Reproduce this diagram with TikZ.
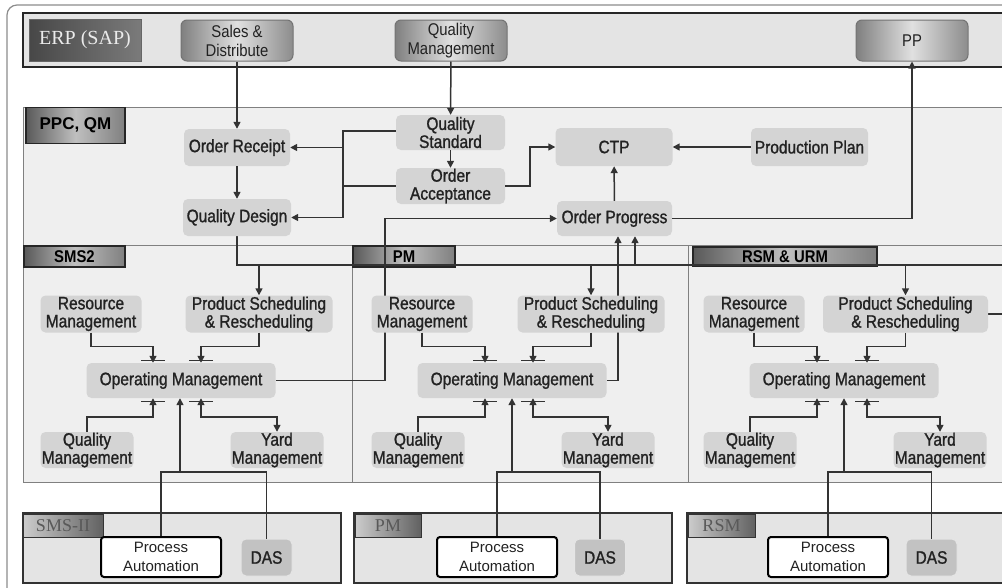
\documentclass[tikz,border=0pt]{standalone}
\usepackage{fontspec}
\setmainfont{Liberation Sans}[FakeStretch=0.875]
\newfontfamily\taskfont{Liberation Sans}[FakeStretch=0.86,FakeBold=1.2]
\newfontfamily\widesans{Liberation Sans}
\newfontfamily\seriftag{Liberation Serif}
\usetikzlibrary{arrows.meta}

\definecolor{taskgray}{HTML}{D4D4D4}
\definecolor{areagray}{HTML}{EFEFEF}
\definecolor{bandgray}{HTML}{E4E4E4}
\definecolor{wiregray}{HTML}{333333}
\definecolor{inkgray}{HTML}{222222}

\pgfdeclarelayer{areas}
\pgfdeclarelayer{under}
\pgfsetlayers{areas,under,main}

\begin{document}
\begin{tikzpicture}[x=1pt,y=-1pt,
  wire/.style={draw=wiregray,line width=1.5pt},
  flow/.style={wire,-{Triangle[length=7pt,width=7pt]}},
  twoway/.style={wire,{Triangle[length=7pt,width=7pt]}-{Triangle[length=7pt,width=7pt]}},
  tee/.style={draw=wiregray,line width=1.2pt},
  task/.style={fill=taskgray,rounded corners=5pt,inner sep=0pt,align=center,text=inkgray,
    font=\taskfont\fontsize{18}{18}\selectfont},
  erpbox/.style={draw=black!55,line width=1pt,rounded corners=6pt,left color=black!50,
    right color=black!45,middle color=black!12,inner sep=0pt,align=center,text=inkgray,
    font=\fontsize{17}{19}\selectfont,minimum width=112pt,minimum height=41pt},
  tag/.style={draw=black!85,line width=1.2pt,left color=black!65,right color=black!50,
    middle color=black!25,inner sep=0pt,text=black,font=\bfseries\fontsize{17}{17}\selectfont},
  sitetag/.style={draw=black!80,line width=1pt,left color=black!20,right color=black!62,
    inner sep=0pt,text=black!65,font=\seriftag\fontsize{18}{18}\selectfont,minimum height=23pt},
  area/.style={draw=black!50,line width=1pt,fill=areagray},
  site/.style={draw=black!80,line width=1.2pt,fill=bandgray},
  automation/.style={draw=black,line width=2pt,fill=white,rounded corners=3pt,inner sep=0pt,
    align=center,text=inkgray,font=\widesans\fontsize{15}{19}\selectfont,
    minimum width=120pt,minimum height=40pt},
  das/.style={fill=black!24,draw=black!10,line width=1pt,rounded corners=5pt,inner sep=0pt,
    text=inkgray,font=\taskfont\fontsize{18}{18}\selectfont,minimum width=51pt,minimum height=37pt}]
  \useasboundingbox (0,0) rectangle (1002,587);
  \clip (0,0) rectangle (1002,587);

  \begin{pgfonlayer}{areas}
    % Outer frame
    \draw[black!45,line width=1.2pt,rounded corners=10pt] (7,5) rectangle (1040,620);
    % ERP band
    \draw[line width=2pt,draw=black!85,fill=bandgray] (23,13) rectangle (1040,67);
    % PPC, QM area
    \draw[area] (23,107) rectangle (1040,245);
    \node[tag,font=\widesans\bfseries\fontsize{17}{17}\selectfont,minimum width=99pt,
      minimum height=36pt] (ppc) at (75.5,125.5) {PPC, QM};
    % Line areas
    \draw[area] (23,245) rectangle (352,482);
    \draw[area] (352,245) rectangle (688,482);
    \draw[area] (688,245) rectangle (1040,482);
    \node[tag,minimum width=101pt,minimum height=21pt] (smstag) at (74.5,256.5) {SMS2};
    \node[tag,minimum width=102pt,minimum height=21pt] (pmtag) at (404,256.5) {PM};
    \node[tag,minimum width=184pt,minimum height=19pt] (rsmtag) at (785,256.5) {RSM \& URM};
  \end{pgfonlayer}

  % ERP systems
  \node[draw=black!60,line width=0.8pt,left color=black!72,right color=black!52,
    minimum width=112pt,minimum height=42pt,inner sep=0pt,text=white!92!black,
    font=\seriftag\fontsize{20}{20}\selectfont] (erp) at (85,40) {ERP (SAP)};
  \node[erpbox] (sales) at (237,40.5) {Sales \&\\Distribute};
  \node[erpbox] (qmerp) at (451,40.5) {Quality\\Management};
  \node[erpbox] (pp) at (912,40.5) {PP};

  % PPC, QM tasks
  \node[task,minimum width=106pt,minimum height=37pt] (receipt) at (237,147.5) {Order Receipt};
  \node[task,minimum width=108pt,minimum height=37pt] (qdesign) at (237,217.5) {Quality Design};
  \node[task,minimum width=109pt,minimum height=35pt] (qstd) at (450.5,132.5) {Quality\\Standard};
  \node[task,minimum width=109pt,minimum height=36pt] (accept) at (450.5,186) {Order\\Acceptance};
  \node[task,minimum width=117pt,minimum height=38pt] (ctp) at (614,147) {CTP};
  \node[task,minimum width=117pt,minimum height=38pt] (plan) at (809.5,147) {Production Plan};
  \node[task,minimum width=115pt,minimum height=35pt] (progress) at (614.5,218.5) {Order Progress};

  \foreach \k/\dx/\psx/\psw/\opl/\opr in {a/0/259/147/153/201, b/331/591/147/485/533,
      c/663/905.5/165/817/867} {
    \node[task,minimum width=101pt,minimum height=37pt] (res-\k) at (91+\dx,314) {Resource\\Management};
    \node[task,minimum width=\psw pt,minimum height=37pt] (ps-\k) at (\psx,314) {Product Scheduling\\\& Rescheduling};
    \node[task,minimum width=189pt,minimum height=35pt] (op-\k) at (181+\dx,380.5) {Operating Management};
    \node[task,minimum width=93pt,minimum height=36pt] (qual-\k) at (87+\dx,450) {Quality\\Management};
    \node[task,minimum width=93pt,minimum height=36pt] (yard-\k) at (277+\dx,450) {Yard\\Management};
    % Inputs and outputs
    \draw[flow] (res-\k.south) -- ++(0,14) -| (op-\k.north -| \opl,0);
    \draw[flow] (ps-\k.south) -- ++(0,14) -| (op-\k.north -| \opr,0);
    \draw[flow] (qual-\k.north) -- ++(0,-15) -| (op-\k.south -| \opl,0);
    \draw[twoway] (op-\k.south -| \opr,0) -- ++(0,19) -| (yard-\k.north);
    % Tee bars
    \foreach \tx in {\opl,\opr} {
      \draw[tee] (op-\k.north -| \tx,0) ++(-12,-2) -- ++(24,0);
      \draw[tee] (op-\k.south -| \tx,0) ++(-12,3) -- ++(24,0);
    }
  }

  % Site level
  \foreach \k/\pl/\pr/\tx/\tw/\tname/\pax/\dasx/\opc in {a/23/341/63/80/SMS-II/161/266.5/180,
      b/354/672/388/66/PM/497/600/512, c/687/1040/721.5/67/RSM/828/931.5/844} {
    \draw[site] (\pl,513) rectangle (\pr,583);
    \node[sitetag,minimum width=\tw pt] (site-\k) at (\tx,525.5) {\tname};
    \node[automation] (pa-\k) at (\pax,557) {Process\\Automation};
    \node[das] (das-\k) at (\dasx,557.5) {DAS};
    \coordinate (merge-\k) at (\opc,472);
    \draw[flow] (pa-\k.north) |- (merge-\k) -- (op-\k.south -| \opc,0);
    \draw[wire] (das-\k.north) |- (merge-\k);
  }

  % PPC connectors
  \draw[flow] (sales) -- (receipt);
  \draw[flow] (qmerp) -- (qstd);
  \draw[flow] (receipt) -- (qdesign);
  \draw[flow] (qstd) -- (accept);
  \coordinate (qsplit) at (343,147.5);
  \draw[flow] (qstd.west |- 0,131) -| (qsplit) -- (receipt.east);
  \draw[flow] (qsplit) |- (qdesign.east);
  \draw[wire] (accept.west) -- (accept.west -| qsplit);
  \draw[flow] (accept.east) -- ++(25,0) |- (ctp.west);
  \draw[flow] (plan) -- (ctp);
  \draw[flow] (progress) -- (ctp);
  \draw[flow] (progress.east) -| (pp.south);

  \begin{pgfonlayer}{under}
    % Outputs running behind boxes
    \draw[flow] (op-a.east) -- (op-a.east -| 385,0) |- (progress.west);
    \draw[flow] (op-b.east) -| (progress.south -| 618,0);
    % Scheduling bus
    \draw[wire] (qdesign.south) |- (1040,265);
    \foreach \k in {a,b,c}
      \draw[flow] (ps-\k.north |- 0,265) -- (ps-\k.north);
    \draw[flow] (635,265) -- (progress.south -| 635,0);
    \draw[wire] (ps-c.east) -- ++(30,0);
  \end{pgfonlayer}
\end{tikzpicture}
\end{document}
